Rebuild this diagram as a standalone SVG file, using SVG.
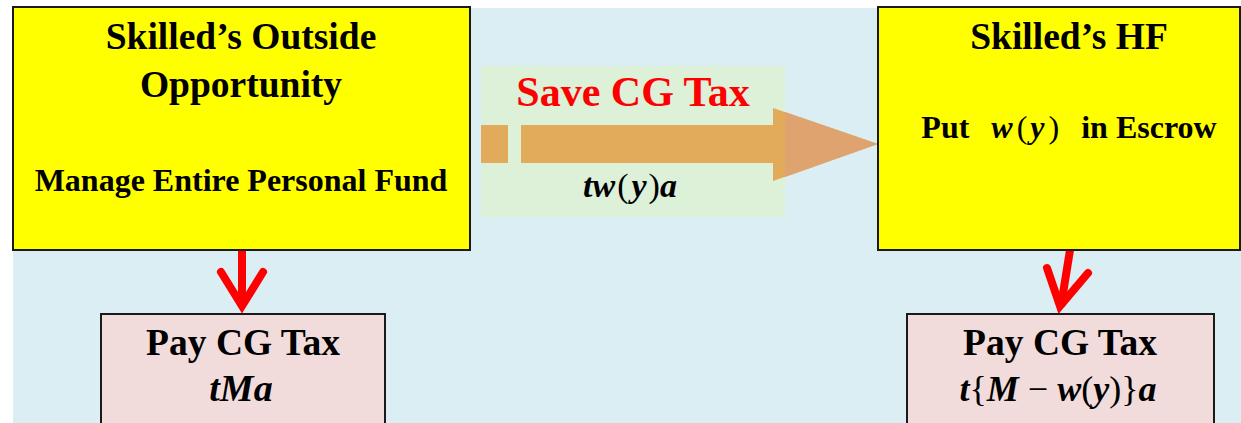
<svg xmlns="http://www.w3.org/2000/svg" width="1241" height="423" viewBox="0 0 1241 423">
<style>
text{font-family:"Liberation Serif","Times New Roman",serif;text-anchor:middle;fill:#000}
.b{font-weight:bold}
.bi{font-weight:bold;font-style:italic}
.i{font-style:italic}
.r{font-weight:normal;font-style:normal}
.yel{fill:#ffff00;stroke:#1a1a1a;stroke-width:2}
.pink{fill:#f2dcdb;stroke:#1a1a1a;stroke-width:2}
.red{fill:none;stroke:#ff0000;stroke-width:8;stroke-linecap:round;stroke-linejoin:miter}
</style>
<rect x="0" y="0" width="1241" height="423" fill="#ffffff"/>
<rect x="13" y="8" width="1228" height="415" fill="#daeef3"/>
<g id="save-cg-tax">
<rect x="481" y="66" width="304" height="151" fill="#ddf0d8"/>
<text x="633" y="106" class="b" font-size="42" style="fill:#ff0000">Save CG Tax</text>
<text x="630" y="197" font-size="34"><tspan class="bi">tw</tspan><tspan class="r" dx="2">(</tspan><tspan class="bi" dx="3">y</tspan><tspan class="r" dx="2">)</tspan><tspan class="bi">a</tspan></text>
</g>
<g id="connectors">
<rect x="481" y="125" width="27" height="38" fill="#e2ab5c"/>
<polygon points="521,125 773,125 773,108 878,144 773,181 773,163 521,163" fill="#e2ab5c"/>
<polygon points="785,112.1 878,144 785,176.9" fill="#dfa370"/>
<path class="red" d="M242,250 L242,306" style="stroke-linecap:butt"/>
<path class="red" d="M221,272 L242,306 L263,272"/>
<path class="red" d="M1070,250 L1061,306" style="stroke-linecap:butt"/>
<path class="red" d="M1047,268 L1060,306 L1088,273"/>
</g>
<g id="outside-opportunity">
<rect class="yel" x="13" y="7" width="457" height="243"/>
<text x="241" y="49" class="b" font-size="37.5">Skilled’s Outside</text>
<text x="241" y="97" class="b" font-size="37.5">Opportunity</text>
<text x="241" y="191" class="b" font-size="32">Manage Entire Personal Fund</text>
</g>
<g id="skilled-hf">
<rect class="yel" x="878" y="7" width="362" height="243"/>
<text x="1069" y="49" class="b" font-size="37.5">Skilled’s HF</text>
<text x="1069" y="138" font-size="32"><tspan class="b">Put</tspan><tspan class="bi" dx="22">w</tspan><tspan class="r" dx="4">(</tspan><tspan class="bi" dx="3">y</tspan><tspan class="r" dx="4">)</tspan><tspan class="b" dx="22">in Escrow</tspan></text>
</g>
<g id="pay-left">
<rect class="pink" x="101" y="314" width="284" height="120"/>
<text x="243" y="355" class="b" font-size="37.5">Pay CG Tax</text>
<text x="241" y="401" class="bi" font-size="38">tMa</text>
</g>
<g id="pay-right">
<rect class="pink" x="907" y="314" width="307" height="120"/>
<text x="1060" y="355" class="b" font-size="37.5">Pay CG Tax</text>
<text x="1058" y="401" font-size="36"><tspan class="bi">t</tspan><tspan class="r">{</tspan><tspan class="bi">M</tspan><tspan class="r"> − </tspan><tspan class="bi">w</tspan><tspan class="r">(</tspan><tspan class="bi">y</tspan><tspan class="r">)}</tspan><tspan class="bi">a</tspan></text>
</g>
</svg>
